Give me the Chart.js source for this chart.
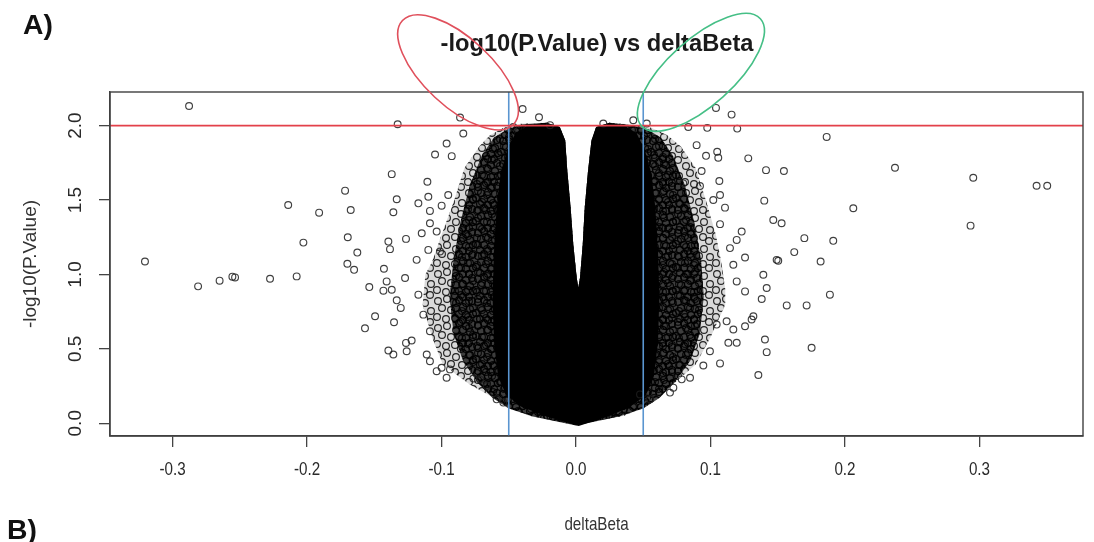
<!DOCTYPE html>
<html>
<head>
<meta charset="utf-8">
<script src="https://cdn.jsdelivr.net/npm/chart.js@4.4.1/dist/chart.umd.min.js"></script>
<style>
  html, body { margin: 0; padding: 0; background: #fff; }
  #wrap { position: relative; width: 1094px; height: 542px; }
</style>
</head>
<body>
<div id="wrap"><canvas id="volcano"></canvas></div>
<script>
// ── Axes ─────────────────────────────────────────────────────────────────
var xTicks = [-0.3, -0.2, -0.1, 0.0, 0.1, 0.2, 0.3];
var yTicks = [0.0, 0.5, 1.0, 1.5, 2.0];
var xRange = [-0.3465, 0.377];
var yRange = [-0.0856, 2.226];

// seuils : -log10(p) = 2 et |deltaBeta| = 0.05
var pCut = 2.0;
var betaCuts = [-0.05, 0.05];

// ── Nuage dense (contours) ───────────────────────────────────────────────
var coreLeft = [[0.002, -0.018], [-0.022, 0.045], [-0.04, 0.11], [-0.052, 0.19], [-0.058, 0.32],
    [-0.061, 0.55], [-0.062, 0.85], [-0.061, 1.15], [-0.059, 1.45], [-0.056, 1.68],
    [-0.051, 1.84], [-0.045, 1.95], [-0.035, 2.005]];
var notch = [[-0.022, 2.02], [-0.012, 1.99], [-0.008, 1.9], [-0.0065, 1.7], [-0.004, 1.45],
    [-0.002, 1.2], [0.0005, 0.98], [0.0017, 0.91], [0.003, 0.98], [0.005, 1.2], [0.0065, 1.45],
    [0.009, 1.7], [0.0115, 1.9], [0.015, 1.99], [0.025, 2.02]];
var coreRight = [[0.036, 2.0], [0.045, 1.95], [0.051, 1.84], [0.056, 1.68], [0.059, 1.45],
    [0.061, 1.15], [0.062, 0.85], [0.061, 0.55], [0.058, 0.32], [0.052, 0.19], [0.04, 0.11],
    [0.024, 0.045]];

var innerLeft = [[0.0, -0.015], [-0.032, 0.045], [-0.05, 0.1], [-0.062, 0.17], [-0.073, 0.27],
    [-0.084, 0.42], [-0.091, 0.6], [-0.094, 0.85], [-0.091, 1.1], [-0.086, 1.35], [-0.079, 1.6],
    [-0.07, 1.8], [-0.061, 1.92], [-0.05, 1.98], [-0.038, 2.01]];
var innerRight = [[0.04, 2.005], [0.052, 1.98], [0.063, 1.92], [0.072, 1.8], [0.081, 1.6],
    [0.088, 1.35], [0.093, 1.1], [0.095, 0.85], [0.092, 0.6], [0.085, 0.42], [0.073, 0.27],
    [0.062, 0.17], [0.05, 0.1], [0.032, 0.045]];

var outerLeft = [[0.0, -0.01], [-0.035, 0.05], [-0.05, 0.107], [-0.062, 0.174], [-0.079, 0.261],
    [-0.099, 0.395], [-0.107, 0.576], [-0.114, 0.797], [-0.112, 1.0], [-0.107, 1.085],
    [-0.1, 1.266], [-0.091, 1.487], [-0.083, 1.715], [-0.072, 1.86], [-0.064, 1.936],
    [-0.054, 1.985], [-0.04, 2.015]];
var outerRight = [[0.04, 2.01], [0.056, 1.985], [0.068, 1.936], [0.078, 1.86], [0.089, 1.715],
    [0.097, 1.487], [0.104, 1.266], [0.108, 1.085], [0.111, 0.9], [0.111, 0.797], [0.1, 0.576],
    [0.089, 0.395], [0.072, 0.261], [0.057, 0.174], [0.05, 0.107], [0.036, 0.05]];

// ── Points isolés ────────────────────────────────────────────────────────
var farLeft = [[-0.3205, 1.087], [-0.2877, 2.132], [-0.281, 0.92], [-0.265, 0.958], [-0.2535, 0.98],
    [-0.2555, 0.985], [-0.2275, 0.971], [-0.214, 1.467], [-0.2077, 0.987], [-0.2027, 1.214],
    [-0.191, 1.415], [-0.1717, 1.563], [-0.1675, 1.433], [-0.1697, 1.25], [-0.1626, 1.147],
    [-0.17, 1.072], [-0.165, 1.031], [-0.1537, 0.915], [-0.1494, 0.719], [-0.1569, 0.638]];
var nearLeft = [[-0.1326, 2.009], [-0.0862, 2.054], [-0.0838, 1.947], [-0.0962, 1.88], [-0.1048, 1.806],
    [-0.0924, 1.795], [-0.137, 1.674], [-0.1105, 1.623], [-0.1333, 1.505], [-0.1098, 1.522],
    [-0.095, 1.534], [-0.1172, 1.478], [-0.1358, 1.418], [-0.1086, 1.427], [-0.0999, 1.462],
    [-0.1395, 1.221], [-0.1264, 1.239], [-0.1383, 1.17], [-0.1147, 1.277], [-0.1086, 1.344],
    [-0.1036, 1.288], [-0.1098, 1.165], [-0.1185, 1.098], [-0.1011, 1.154], [-0.1428, 1.038],
    [-0.1271, 0.976], [-0.1408, 0.953], [-0.1432, 0.891], [-0.137, 0.897], [-0.1333, 0.826],
    [-0.1303, 0.775], [-0.1353, 0.679], [-0.1395, 0.489], [-0.1358, 0.462], [-0.1259, 0.484],
    [-0.1222, 0.556], [-0.1264, 0.54], [-0.1172, 0.864], [-0.111, 0.462], [-0.1086, 0.417],
    [-0.1036, 0.35], [-0.0962, 0.306], [-0.0937, 0.362], [-0.0999, 0.373], [-0.1135, 0.73],
    [-0.1086, 0.618], [-0.0763, 0.301], [-0.0714, 0.295], [-0.0664, 0.25], [-0.059, 0.161],
    [-0.054, 0.139]];
var topCenter = [[-0.0397, 2.112], [-0.0275, 2.056], [-0.0193, 2.003], [-0.0466, 1.991],
    [0.0426, 2.036], [0.0526, 2.014], [0.0203, 2.014]];
var nearRight = [[0.1041, 2.119], [0.1157, 2.074], [0.0835, 1.991], [0.0976, 1.985], [0.1199, 1.98],
    [0.1281, 1.78], [0.1413, 1.701], [0.1546, 1.695], [0.14, 1.496], [0.1467, 1.366],
    [0.1529, 1.344], [0.1698, 1.244], [0.1913, 1.226], [0.1623, 1.15], [0.1504, 1.092],
    [0.1819, 1.087], [0.1393, 0.998], [0.117, 1.065], [0.0967, 1.797], [0.105, 1.824],
    [0.1058, 1.784], [0.0934, 1.695], [0.1066, 1.628], [0.0922, 1.594], [0.1021, 1.5],
    [0.1071, 1.534], [0.1108, 1.449], [0.0798, 1.612], [0.0897, 1.869], [0.1492, 1.098],
    [0.1232, 1.288], [0.1195, 1.232], [0.1071, 1.338], [0.1257, 1.114], [0.1145, 1.177],
    [0.1888, 0.864], [0.1567, 0.792], [0.1715, 0.792], [0.1752, 0.507], [0.1356, 0.324],
    [0.1405, 0.563], [0.1418, 0.478], [0.1071, 0.402], [0.1195, 0.541], [0.1133, 0.541],
    [0.1418, 0.909], [0.1381, 0.835], [0.1306, 0.697], [0.1257, 0.652], [0.117, 0.63],
    [0.0947, 0.388], [0.1319, 0.719], [0.0848, 0.306], [0.0786, 0.295], [0.0699, 0.206],
    [0.0724, 0.239], [0.055, 0.161], [0.0476, 0.194], [0.0996, 0.484], [0.1046, 0.663],
    [0.112, 0.685], [0.1195, 0.953], [0.1257, 0.886]];
var farRight = [[0.1864, 1.924], [0.2372, 1.717], [0.2954, 1.65], [0.3425, 1.596], [0.3504, 1.596],
    [0.2062, 1.445], [0.2934, 1.328]];

// ── Ellipses tracées à la main sur la figure ─────────────────────────────
var marks = [
    { x: -0.0877, y: 2.358, rx: 76, ry: 34, angle: 43, color: '#e0505c' },
    { x: 0.0929, y: 2.358, rx: 80, ry: 33, angle: -42, color: '#45bf86' }
];

function pts(list) {
    return list.map(function (p) { return { x: p[0], y: p[1] }; });
}

// motif de cercles qui se chevauchent, pour le halo du nuage
function ringPattern(fill, stroke, rings, w, h) {
    var c = document.createElement('canvas');
    c.width = w;
    c.height = h;
    var g = c.getContext('2d');
    g.fillStyle = fill;
    g.fillRect(0, 0, w, h);
    g.strokeStyle = stroke;
    g.lineWidth = 1.15;
    rings.forEach(function (r) {
        [-w, 0, w].forEach(function (dx) {
            [-h, 0, h].forEach(function (dy) {
                g.beginPath();
                g.arc(r[0] + dx, r[1] + dy, 3.4, 0, Math.PI * 2);
                g.stroke();
            });
        });
    });
    return g.createPattern(c, 'repeat');
}

var outerFill = ringPattern('rgba(0,0,0,0.15)', 'rgba(15,15,15,0.9)',
    [[4, 4], [13, 2], [22, 6], [28, 14], [8, 11], [17, 13], [3, 20], [12, 22], [21, 21], [27, 25]], 31, 27);
var innerFill = ringPattern('rgba(0,0,0,0.72)', 'rgba(0,0,0,1)',
    [[3, 3], [9, 1], [16, 4], [22, 2], [6, 9], [13, 8], [20, 10], [1, 14], [9, 15], [16, 16],
     [23, 15], [5, 20], [13, 21], [19, 21]], 25, 23);

var core = coreLeft.concat(notch, coreRight, [coreLeft[0]]);
var inner = innerLeft.concat(notch, innerRight, [innerLeft[0]]);
var outer = outerLeft.concat(notch, outerRight, [outerLeft[0]]);
var scatter = farLeft.concat(nearLeft, topCenter, nearRight, farRight);

// texte étiré (le rendu R d'origine a des glyphes étroits)
function text(ctx, str, x, y, font, color, sx, rot) {
    ctx.save();
    ctx.translate(x, y);
    if (rot) ctx.rotate(rot);
    ctx.scale(sx || 1, 1);
    ctx.font = font;
    ctx.fillStyle = color;
    ctx.textAlign = 'center';
    ctx.textBaseline = 'middle';
    ctx.fillText(str, 0, 0);
    ctx.restore();
}

var decor = {
    id: 'decor',
    afterDraw: function (chart) {
        var ctx = chart.ctx, a = chart.chartArea;
        var xs = chart.scales.x, ys = chart.scales.y;

        ctx.save();
        ctx.strokeStyle = '#404040';
        ctx.lineWidth = 1.4;
        ctx.strokeRect(a.left, a.top, a.right - a.left, a.bottom - a.top);
        ctx.restore();

        var axisFont = '19px "Liberation Sans", Arial, sans-serif';
        xTicks.forEach(function (v) {
            text(ctx, v.toFixed(1), xs.getPixelForValue(v), 470, axisFont, '#2a2a2a', 0.8);
        });
        yTicks.forEach(function (v) {
            text(ctx, v.toFixed(1), 76, ys.getPixelForValue(v), axisFont, '#2a2a2a', 1, -Math.PI / 2);
        });
        var mid = (a.left + a.right) / 2;
        text(ctx, 'deltaBeta', mid, 525, axisFont, '#333', 0.8);
        text(ctx, '-log10(P.Value)', 31, (a.top + a.bottom) / 2, axisFont, '#333', 1, -Math.PI / 2);

        // titre, ajusté sur la largeur voulue
        var titleFont = 'bold 23px "Liberation Sans", Arial, sans-serif';
        ctx.save();
        ctx.font = titleFont;
        var w = ctx.measureText('-log10(P.Value) vs deltaBeta').width;
        ctx.restore();
        text(ctx, '-log10(P.Value) vs deltaBeta', 597, 45, titleFont, '#1a1a1a', 313 / w);

        text(ctx, 'A)', 38, 27, 'bold 27px "Liberation Sans", Arial, sans-serif', '#111', 1.05);
        text(ctx, 'B)', 22, 532, 'bold 27px "Liberation Sans", Arial, sans-serif', '#111', 1.05);

        marks.forEach(function (m) {
            ctx.save();
            ctx.strokeStyle = m.color;
            ctx.lineWidth = 1.6;
            ctx.beginPath();
            ctx.ellipse(xs.getPixelForValue(m.x), ys.getPixelForValue(m.y), m.rx, m.ry,
                m.angle * Math.PI / 180, 0, Math.PI * 2);
            ctx.stroke();
            ctx.restore();
        });
    }
};

function shape(data, fill, order) {
    return {
        data: pts(data), showLine: true, fill: 'shape', backgroundColor: fill,
        borderWidth: 0, borderColor: 'rgba(0,0,0,0)', pointRadius: 0, tension: 0, order: order
    };
}

function rule(data, color) {
    return {
        data: data, showLine: true, fill: false, borderColor: color, borderWidth: 1.6,
        pointRadius: 0, order: 0
    };
}

new Chart(document.getElementById('volcano'), {
    type: 'scatter',
    data: {
        datasets: [
            rule([{ x: xRange[0], y: pCut }, { x: xRange[1], y: pCut }], '#e3404a'),
            rule([{ x: betaCuts[0], y: yRange[0] }, { x: betaCuts[0], y: yRange[1] }], '#5a95d0'),
            rule([{ x: betaCuts[1], y: yRange[0] }, { x: betaCuts[1], y: yRange[1] }], '#5a95d0'),
            {
                data: pts(scatter), pointStyle: 'circle', pointRadius: 3.4, borderWidth: 1.15,
                borderColor: 'rgba(30,30,30,0.85)', backgroundColor: 'rgba(0,0,0,0)', order: 1
            },
            shape(core, '#000', 2),
            shape(inner, innerFill, 3),
            shape(outer, outerFill, 4)
        ]
    },
    options: {
        responsive: true,
        maintainAspectRatio: false,
        animation: false,
        devicePixelRatio: 1,
        events: [],
        layout: { padding: { left: 0, top: 92, right: 11, bottom: 0 } },
        plugins: { legend: { display: false }, tooltip: { enabled: false }, title: { display: false } },
        scales: {
            x: {
                type: 'linear', min: xRange[0], max: xRange[1],
                afterBuildTicks: function (s) { s.ticks = xTicks.map(function (v) { return { value: v }; }); },
                afterFit: function (s) { s.height = 106; },
                ticks: { display: false },
                grid: { drawOnChartArea: false, drawTicks: true, tickLength: 11, color: '#444', lineWidth: 1.3 },
                border: { display: true, color: '#404040', width: 1.4 }
            },
            y: {
                type: 'linear', min: yRange[0], max: yRange[1],
                afterBuildTicks: function (s) { s.ticks = yTicks.map(function (v) { return { value: v }; }); },
                afterFit: function (s) { s.width = 110; },
                ticks: { display: false },
                grid: { drawOnChartArea: false, drawTicks: true, tickLength: 11, color: '#444', lineWidth: 1.3 },
                border: { display: true, color: '#404040', width: 1.4 }
            }
        }
    },
    plugins: [decor]
});
</script>
</body>
</html>
